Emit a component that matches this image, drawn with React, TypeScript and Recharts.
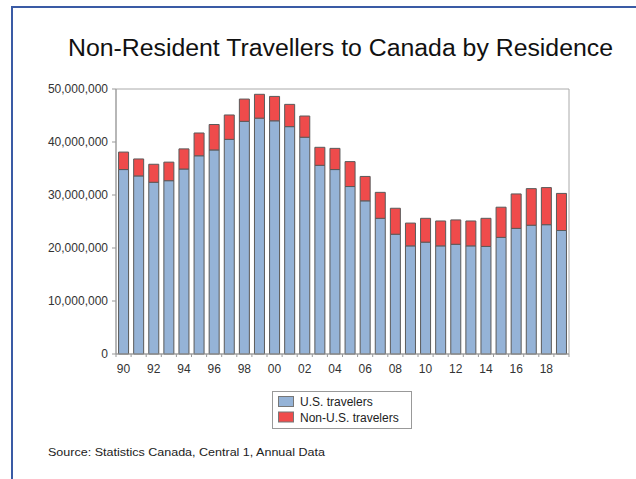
import { BarChart, Bar, XAxis, YAxis, CartesianGrid } from "recharts";

const years = [
  "1990", "1991", "1992", "1993", "1994", "1995", "1996", "1997", "1998", "1999",
  "2000", "2001", "2002", "2003", "2004", "2005", "2006", "2007", "2008", "2009",
  "2010", "2011", "2012", "2013", "2014", "2015", "2016", "2017", "2018", "2019",
];

const usTravelers = [
  34800000, 33600000, 32400000, 32700000, 34900000, 37400000, 38500000, 40500000, 43900000, 44500000,
  44000000, 42900000, 40900000, 35600000, 34800000, 31600000, 28900000, 25600000, 22600000, 20400000,
  21100000, 20400000, 20700000, 20400000, 20300000, 22000000, 23700000, 24300000, 24400000, 23300000,
];

const nonUsTravelers = [
  3300000, 3200000, 3400000, 3500000, 3800000, 4300000, 4800000, 4600000, 4200000, 4500000,
  4600000, 4200000, 4000000, 3400000, 4000000, 4700000, 4600000, 4900000, 4900000, 4300000,
  4500000, 4700000, 4600000, 4700000, 5300000, 5700000, 6500000, 6900000, 7000000, 7000000,
];

const yTicks = [0, 10000000, 20000000, 30000000, 40000000, 50000000];

const series = [
  { key: "us", name: "U.S. travelers", color: "#95b3d7" },
  { key: "nonUs", name: "Non-U.S. travelers", color: "#ef4b4b" },
];

const data = years.map((year, i) => ({
  year,
  us: usTravelers[i],
  nonUs: nonUsTravelers[i],
}));

const FONT = "Arial, 'Liberation Sans', sans-serif";
const W = 636;
const H = 479;
const margin = { top: 89, right: 67, bottom: 95, left: 0 };
const yAxisWidth = 116;
const plotWidth = W - yAxisWidth - margin.right;
const halfStep = plotWidth / years.length / 2;

function YearTick(props: any) {
  const { x, y, payload } = props;
  const axisY = y - 6;
  const yr = String(payload.value);
  const showLabel = Number(yr) % 2 === 0;
  const isLast = yr === years[years.length - 1];
  return (
    <g>
      <line x1={x - halfStep} x2={x - halfStep} y1={axisY} y2={axisY + 3} stroke="#999" />
      {isLast && <line x1={x + halfStep} x2={x + halfStep} y1={axisY} y2={axisY + 3} stroke="#999" />}
      {showLabel && (
        <text x={x} y={axisY + 19} textAnchor="middle" fontSize={12} fill="#333" fontFamily={FONT}>
          {yr.slice(2)}
        </text>
      )}
    </g>
  );
}

export default function App() {
  return (
    <div style={{ position: "absolute", left: 0, top: 0, width: W, height: H, background: "#fff", overflow: "hidden" }}>
      <div
        style={{
          position: "absolute",
          left: 11,
          top: 6,
          width: W,
          height: H,
          borderLeft: "2px solid #3a5ba5",
          borderTop: "2px solid #3a5ba5",
        }}
      />
      <div style={{ position: "absolute", left: 0, top: 0 }}>
        <BarChart width={W} height={H} data={data} margin={margin} barCategoryGap="17%">
          <CartesianGrid
            stroke="#aaa"
            horizontalCoordinatesGenerator={({ offset }: any) => [offset.top, offset.top + offset.height]}
            verticalCoordinatesGenerator={({ offset }: any) => [offset.left, offset.left + offset.width]}
          />
          <XAxis
            dataKey="year"
            interval={0}
            tickLine={false}
            tickSize={4}
            tickMargin={2}
            height={30}
            axisLine={{ stroke: "#999" }}
            tick={<YearTick />}
          />
          <YAxis
            domain={[0, 50000000]}
            ticks={yTicks}
            width={yAxisWidth}
            tickSize={4}
            tickMargin={4}
            axisLine={{ stroke: "#999" }}
            tickLine={{ stroke: "#999" }}
            tick={{ fontSize: 12, fill: "#333", fontFamily: FONT }}
            tickFormatter={(v: number) => v.toLocaleString("en-US")}
          />
          {series.map((s) => (
            <Bar
              key={s.key}
              dataKey={s.key}
              name={s.name}
              stackId="a"
              fill={s.color}
              stroke="#5a5a5a"
              strokeWidth={1}
              isAnimationActive={false}
            />
          ))}
        </BarChart>
      </div>
      <svg width={W} height={H} style={{ position: "absolute", left: 0, top: 0, pointerEvents: "none" }}>
        <text
          x={68}
          y={56}
          fontSize={23.5}
          fill="#111"
          fontFamily={FONT}
          textLength={545}
          lengthAdjust="spacingAndGlyphs"
        >
          Non-Resident Travellers to Canada by Residence
        </text>
        <rect x={272.5} y={391.5} width={139} height={37} fill="#fff" stroke="#999" />
        {series.map((s, i) => (
          <g key={s.key}>
            <rect x={278.5} y={396.5 + i * 15.5} width={15} height={10} fill={s.color} stroke="#777" />
            <text x={300} y={406 + i * 15.7} fontSize={12} fill="#222" fontFamily={FONT}>
              {s.name}
            </text>
          </g>
        ))}
        <text
          x={48}
          y={456}
          fontSize={11.5}
          fill="#222"
          fontFamily={FONT}
          textLength={277}
          lengthAdjust="spacingAndGlyphs"
        >
          Source: Statistics Canada, Central 1, Annual Data
        </text>
      </svg>
    </div>
  );
}
